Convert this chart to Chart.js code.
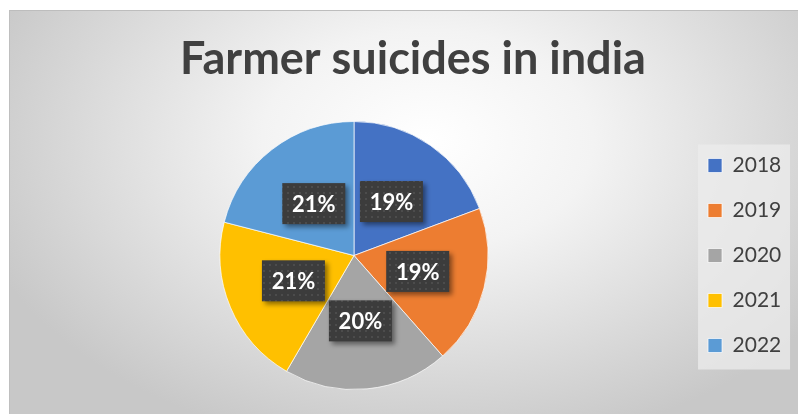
<!DOCTYPE html>
<html>
<head>
<meta charset="utf-8">
<script src="https://cdn.jsdelivr.net/npm/chart.js@4.4.1/dist/chart.umd.min.js"></script>
<style>
  html, body { margin: 0; padding: 0; background: #fff; overflow: hidden; }
  #frame {
    position: absolute; left: 9px; top: 10px; width: 789px; height: 404px;
    box-sizing: border-box;
    border-top: 1px solid #bdbdbd; border-left: 1px solid #bfbfbf;
    background: radial-gradient(ellipse 60% 78% at 53% 32%, #ffffff 0%, #f3f3f3 35%, #c8c8c8 100%);
  }
  #myChart { position: absolute; left: 9px; top: 10px; }
</style>
</head>
<body>
<div id="frame"></div>
<canvas id="myChart" width="797" height="404"></canvas>
<script>
Chart.defaults.font.family = 'Lato'
Chart.defaults.color = '#404040'

// data (share of total, %)
const years = ['2018', '2019', '2020', '2021', '2022']
const shares = [19.3, 19.2, 19.9, 20.6, 21.0]
const sliceColors = ['#4472C4', '#ED7D31', '#A5A5A5', '#FFC000', '#5B9BD5']

// little dotted texture for the label boxes
const dots = document.createElement('canvas')
dots.width = 6
dots.height = 6
const dctx = dots.getContext('2d')
dctx.fillStyle = '#3c3c3c'
dctx.fillRect(0, 0, 6, 6)
dctx.fillStyle = '#4c4c4c'
dctx.fillRect(2, 2, 2, 2)

const legendBg = {
    id: 'legendBg',
    beforeDraw: (chart) => {
        const lg = chart.legend
        const ctx = chart.ctx
        const mid = (lg.top + lg.bottom) / 2
        ctx.save()
        ctx.fillStyle = 'rgba(236,236,236,0.75)'
        ctx.fillRect(lg.left + 14, mid - 111, 92, 225)
        ctx.restore()
    }
}

const pctLabels = {
    id: 'pctLabels',
    afterDatasetsDraw: (chart) => {
        const ctx = chart.ctx
        const meta = chart.getDatasetMeta(0)
        const data = chart.data.datasets[0].data
        const total = data.reduce((a, b) => a + b, 0)
        const pattern = ctx.createPattern(dots, 'repeat')
        meta.data.forEach((arc, i) => {
            const p = arc.getProps(['x', 'y', 'startAngle', 'endAngle', 'outerRadius'], true)
            const mid = (p.startAngle + p.endAngle) / 2
            const r = p.outerRadius * 0.49
            const cx = p.x + Math.cos(mid) * r
            const cy = p.y + Math.sin(mid) * r
            const w = 63, h = 41
            ctx.save()
            ctx.shadowColor = 'rgba(0,0,0,0.45)'
            ctx.shadowBlur = 5
            ctx.shadowOffsetX = 3
            ctx.shadowOffsetY = 3
            ctx.fillStyle = pattern
            ctx.fillRect(cx - w / 2, cy - h / 2, w, h)
            ctx.restore()
            ctx.save()
            ctx.fillStyle = '#ffffff'
            ctx.font = 'bold 22px Lato'
            ctx.textAlign = 'center'
            ctx.textBaseline = 'middle'
            ctx.fillText(Math.round(data[i] / total * 100) + '%', cx, cy + 1)
            ctx.restore()
        })
    }
}

var chart = new Chart(document.getElementById('myChart'), {
    type: 'pie',
    data: {
        labels: years,
        datasets: [
            {
                data: shares,
                backgroundColor: sliceColors,
                borderColor: 'rgba(255,255,255,0.7)',
                borderWidth: 1
            }
        ]
    },
    options: {
        responsive: false,
        animation: false,
        layout: {
            padding: { left: 15, right: 4, top: 0, bottom: 24 }
        },
        plugins: {
            title: {
                display: true,
                text: 'Farmer suicides in india',
                color: '#404040',
                font: { size: 45, weight: 'bold' },
                padding: { top: 22, bottom: 35 }
            },
            legend: {
                position: 'right',
                fullSize: false,
                labels: {
                    boxWidth: 14,
                    boxHeight: 14,
                    padding: 24,
                    color: '#404040',
                    font: { size: 21 },
                    // trailing room so the legend column is as wide as the original one
                    generateLabels: (c) => Chart.overrides.pie.plugins.legend.labels.generateLabels(c)
                        .map(item => ({ ...item, text: item.text + '  ' }))
                }
            },
            tooltip: { enabled: false }
        }
    },
    plugins: [legendBg, pctLabels]
})
</script>
</body>
</html>
